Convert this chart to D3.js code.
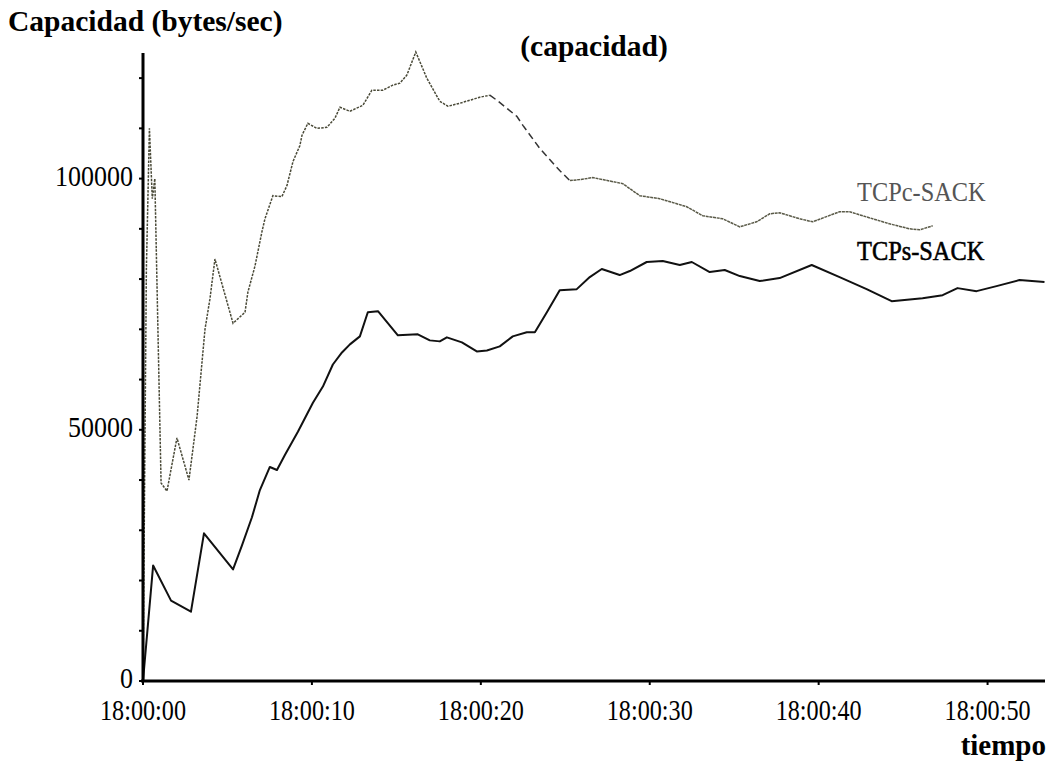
<!DOCTYPE html>
<html>
<head>
<meta charset="utf-8">
<script src="https://cdn.jsdelivr.net/npm/d3@7"></script>
<style>
  html, body { margin: 0; padding: 0; background: #fff; }
  svg { display: block; }
  text { font-family: "Liberation Serif", "Times New Roman", serif; }
</style>
</head>
<body>
<svg id="chart" width="1058" height="768"></svg>
<script>
// Seconds after 18:00:00 and measured capacity (bytes/sec)
const tcpsTime = [0, 0.6, 1.66, 2.84, 3.61, 5.33, 5.86, 6.45, 6.92, 7.51, 7.93, 8.4, 9.17, 10.06, 10.65,
  11.24, 11.78, 12.25, 12.84, 13.31, 13.91, 15.09, 16.27, 16.98, 17.57, 17.99, 18.88, 19.76, 20.36,
  21.12, 21.89, 22.72, 23.2, 23.91, 24.67, 25.68, 26.45, 27.16, 28.22, 28.82, 29.82, 30.77, 31.78,
  32.49, 33.55, 34.44, 35.33, 36.51, 37.69, 39.59, 41.24, 42.84, 44.32, 46.15, 47.34, 48.22, 49.35,
  50.53, 51.89, 53.37];
const tcpsValue = [0, 23000, 16000, 13800, 29400, 22200, 27000, 32600, 38000, 42600, 42000, 45000, 49600,
  55400, 58600, 63000, 65400, 67000, 68600, 73400, 73600, 68800, 69000, 67800, 67600, 68400, 67400,
  65600, 65800, 66600, 68600, 69400, 69400, 73400, 77800, 78000, 80400, 82000, 80800, 81600, 83400,
  83600, 82800, 83400, 81400, 81800, 80600, 79600, 80200, 82800, 80400, 78000, 75600, 76200, 76800,
  78200, 77600, 78600, 79800, 79400];

const tcpcTime = [0, 0.2, 0.38, 0.55, 0.7, 1.07, 1.42, 2.01, 2.72, 3.2, 3.67, 3.96, 4.26, 5.33, 6.04,
  6.21, 6.63, 7.04, 7.22, 7.69, 8.22, 8.52, 8.88, 9.29, 9.41, 9.76, 10.3, 10.89, 11.36, 11.66, 12.25,
  13.02, 13.55, 14.2, 14.79, 15.21, 15.62, 16.15, 16.8, 17.57, 18.05, 18.76, 19.35, 19.94, 20.53,
  20.95, 21.54, 22.13, 22.49, 23.49, 24.67, 25.27, 25.86, 26.63, 28.4, 29.41, 30.59, 32.19, 33.14,
  34.32, 35.33, 36.33, 37.1, 37.69, 38.88, 39.64, 41.24, 41.83, 43.2, 44.2, 45.38, 45.98, 46.75];
const tcpcValue = [0, 82000, 110000, 96000, 100000, 39400, 37800, 48400, 40000, 52600, 70000, 76000,
  84000, 71200, 73400, 77400, 82600, 89400, 92000, 96600, 96400, 98600, 103400, 106600, 108600,
  111000, 110000, 110200, 112000, 114200, 113400, 114600, 117600, 117600, 118600, 119000, 120600,
  125200, 120000, 115400, 114400, 115000, 115600, 116200, 116600, 115600, 114000, 112400, 110600,
  106000, 101600, 99600, 99800, 100200, 99000, 96600, 96000, 94400, 92600, 92000, 90400, 91400,
  93000, 93200, 92000, 91400, 93400, 93400, 92000, 91000, 90000, 89800, 90600];

const yTickValues = [0, 50000, 100000];
const seriesNames = ["TCPc-SACK", "TCPs-SACK"];

const svg = d3.select("#chart");
const base = new Date(2000, 0, 1, 18, 0, 0);
const toDate = s => new Date(base.getTime() + s * 1000);

const x = d3.scaleTime()
  .domain([base, toDate(53.4)])
  .range([143, 1045]);
const y = d3.scaleLinear()
  .domain([0, 125000])
  .range([681, 53]);

const line = d3.line()
  .x(d => x(toDate(d[0])))
  .y(d => y(d[1]));

const tcps = tcpsTime.map((t, i) => [t, tcpsValue[i]]);
const tcpc = tcpcTime.map((t, i) => [t, tcpcValue[i]]);

// TCPc trace: dotted at first, broken dashes while it falls, then a finer grey stroke
const tcpcStyles = [
  { from: 0, to: 20.53, dash: "2.5,1.2", color: "#4a4a38", width: 1.5 },
  { from: 20.53, to: 25.27, dash: "7,4", color: "#333", width: 1.5 },
  { from: 25.27, to: 99, dash: "3,0.7", color: "#5a5a48", width: 1.5 }
];
tcpcStyles.forEach(s => {
  svg.append("path")
    .datum(tcpc.filter(d => d[0] >= s.from && d[0] <= s.to))
    .attr("fill", "none")
    .attr("stroke", s.color)
    .attr("stroke-width", s.width)
    .attr("stroke-dasharray", s.dash)
    .attr("d", line);
});

svg.append("path")
  .datum(tcps)
  .attr("fill", "none")
  .attr("stroke", "#111")
  .attr("stroke-width", 2)
  .attr("stroke-linejoin", "round")
  .attr("d", line);

// Tall, narrow serif labels
function stretched(sel, sy) {
  return sel.attr("transform", function () {
    const tx = +this.getAttribute("data-x"), ty = +this.getAttribute("data-y");
    return `translate(${tx},${ty}) scale(1,${sy})`;
  });
}

// Y axis: minor ticks every 10000, labelled every 50000
const yAxis = svg.append("g").attr("transform", "translate(143,0)");
yAxis.append("line")
  .attr("x1", 0).attr("x2", 0)
  .attr("y1", y(125000)).attr("y2", y(0) + 1)
  .attr("stroke", "#000").attr("stroke-width", 3);
yAxis.selectAll("line.minor")
  .data(d3.range(0, 125001, 10000))
  .join("line")
  .attr("class", "minor")
  .attr("x1", -4).attr("x2", 0)
  .attr("y1", d => y(d)).attr("y2", d => y(d))
  .attr("stroke", "#000").attr("stroke-width", 2);
yAxis.selectAll("text.ylab")
  .data(yTickValues)
  .join("text")
  .attr("class", "ylab")
  .attr("data-x", -10)
  .attr("data-y", d => y(d) + 7)
  .attr("text-anchor", "end")
  .attr("font-size", 26)
  .text(d => d3.format("d")(d))
  .call(stretched, 1.1);

// X axis
const xAxis = svg.append("g").attr("transform", "translate(0,681)");
xAxis.append("line")
  .attr("x1", 141).attr("x2", 1045)
  .attr("y1", 0).attr("y2", 0)
  .attr("stroke", "#000").attr("stroke-width", 3);
const xTicks = x.ticks(d3.timeSecond.every(10));
xAxis.selectAll("line.xt")
  .data(xTicks)
  .join("line")
  .attr("class", "xt")
  .attr("x1", d => x(d)).attr("x2", d => x(d))
  .attr("y1", 0).attr("y2", 4)
  .attr("stroke", "#000").attr("stroke-width", 2);
xAxis.selectAll("text.xlab")
  .data(xTicks)
  .join("text")
  .attr("class", "xlab")
  .attr("data-x", d => x(d))
  .attr("data-y", 39)
  .attr("text-anchor", "middle")
  .attr("font-size", 24.2)
  .text(d3.timeFormat("%H:%M:%S"))
  .call(stretched, 1.2);

// Titles
svg.append("text")
  .attr("x", 8).attr("y", 31)
  .attr("font-size", 29.5).attr("font-weight", "bold")
  .text("Capacidad (bytes/sec)");
svg.append("text")
  .attr("x", 594).attr("y", 56)
  .attr("text-anchor", "middle")
  .attr("font-size", 29.5).attr("font-weight", "bold")
  .text("(capacidad)");
svg.append("text")
  .attr("x", 1046).attr("y", 755)
  .attr("text-anchor", "end")
  .attr("font-size", 29).attr("font-weight", "bold")
  .text("tiempo");

// Series labels
svg.append("text")
  .attr("data-x", 857).attr("data-y", 201)
  .attr("font-size", 24.4).attr("fill", "#555")
  .text(seriesNames[0])
  .call(stretched, 1.1);
svg.append("text")
  .attr("data-x", 857).attr("data-y", 260)
  .attr("font-size", 24.4).attr("fill", "#000")
  .attr("stroke", "#000").attr("stroke-width", 0.5)
  .text(seriesNames[1])
  .call(stretched, 1.1);
</script>
</body>
</html>
